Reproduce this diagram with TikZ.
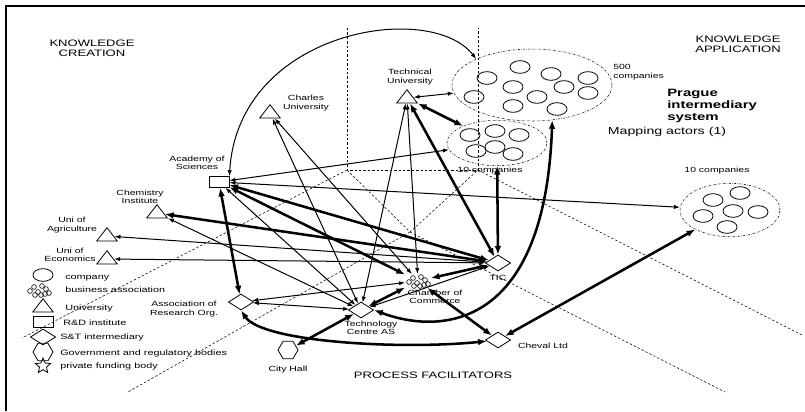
\documentclass[tikz,border=0pt]{standalone}
\usepackage{fontspec}
\setmainfont{Liberation Sans}[FakeStretch=1.4]
\usepackage{tikz}
\usetikzlibrary{arrows.meta, positioning, shapes}

\begin{document}
\begin{tikzpicture}[x=0.75pt, y=-0.75pt,
  every node/.style={inner sep=0pt},
  lbl/.style={font=\fontsize{5.6}{6.4}\selectfont, align=center},
  keytext/.style={font=\fontsize{5.8}{6.5}\selectfont, anchor=west},
  sector/.style={font=\fontsize{7}{7.8}\selectfont, align=center},
  univ/.style={draw, isosceles triangle, shape border rotate=90, isosceles triangle stretches, minimum width=15.5pt, minimum height=10pt, line width=0.6pt},
  lab/.style={draw, rectangle, minimum width=15pt, minimum height=8pt, line width=0.6pt},
  broker/.style={draw, diamond, aspect=1.6, minimum width=19pt, minimum height=12pt, line width=0.6pt},
  govt/.style={draw, regular polygon, regular polygon sides=6, minimum size=15pt, line width=0.6pt},
  funder/.style={draw, star, star points=5, star point ratio=2.2, minimum size=12pt, line width=0.6pt},
  firm/.style={draw, ellipse, minimum width=15pt, minimum height=9.5pt, line width=0.6pt},
  cluster/.style={minimum width=19pt, minimum height=10pt},
  group/.style={draw, ellipse, line width=0.4pt, dash pattern=on 1.5pt off 1pt on 0.3pt off 1pt},
  divider/.style={line width=0.4pt, dash pattern=on 1.8pt off 1.5pt},
  link/.style={draw, {Latex[length=4.5pt, width=3.2pt]}-{Latex[length=4.5pt, width=3.2pt]}, line width=0.75pt},
  strong/.style={draw, {Latex[length=6.5pt, width=5pt]}-{Latex[length=6.5pt, width=5pt]}, line width=1.9pt},
  assoc/.pic={
    \foreach \dx/\dy in {-9/1, -5/-3, -1/2, 3/-4, 7/-1, 10/3, -4/5, 2/5, 6/4}
      \draw [line width=0.45pt] (\dx,\dy) circle (2.4);
  }
]
\useasboundingbox (0,0) rectangle (805,411);

% frame
\draw [line width=1.5pt] (6,411) -- (6,6) -- (805,6);

% sector borders
\draw [divider] (347,28) -- (347,170) -- (478,170) -- (478,28);
\draw [divider] (347,170) -- (410,232) -- (478,170);
\draw [divider] (347,170) -- (22,338);
\draw [divider] (478,170) -- (802,335);
\draw [divider] (410,232) -- (128,392);
\draw [divider] (410,232) -- (725,392);

% sector names
\node [sector] at (92,48)   {KNOWLEDGE\\CREATION};
\node [sector] at (738,44)  {KNOWLEDGE\\APPLICATION};
\node [sector] at (433,375) {PROCESS FACILITATORS};

\node [anchor=north west, align=left, font=\fontsize{8}{8.9}\selectfont\bfseries] (title) at (667,89) {Prague\\intermediary\\system};
\node [anchor=north west, font=\fontsize{7.6}{8}\selectfont, below=3pt of title.south west] (subtitle) {Mapping actors (1)};

% knowledge creation
\node [univ] (tu)      at (407,98)  {};
\node [univ] (charles) at (270,113) {};
\node [lab ] (acad)    at (219,182) {};
\node [univ] (chem)    at (157,213) {};
\node [univ] (agri)    at (107,236) {};
\node [univ] (econ)    at (107,259) {};

\node [lbl] at (410,77)  {Technical\\University};
\node [lbl] at (306,103) {Charles\\University};
\node [lbl] at (197,163) {Academy of\\Sciences};
\node [lbl] at (140,197) {Chemistry\\Institute};
\node [lbl] at (72,225)  {Uni of\\Agriculture};
\node [lbl] at (70,255)  {Uni of\\Economics};

% process facilitators
\node [broker ] (aro)    at (241,302) {};
\node [broker ] (tcas)   at (361,310) {};
\node [cluster] (coc)    at (418,281) {};
\pic at (418,281) {assoc};
\node [broker ] (tic)    at (498,263) {};
\node [broker ] (cheval) at (498,340) {};
\node [govt   ] (hall)   at (288,350) {};

\node [lbl] at (184,309) {Association of\\Research Org.};
\node [lbl] at (371,328) {Technology\\Centre AS};
\node [lbl] at (435,297) {Chamber of\\Commerce};
\node [lbl, below=3pt of tic]            {TIC};
\node [lbl, right=5pt of cheval.east, yshift=-4pt] {Cheval Ltd};
\node [lbl, below=5pt of hall]           {City Hall};

% knowledge application
\node [group, minimum width=120pt, minimum height=54pt] (big)   at (532,85)  {};
\node [group, minimum width=75pt,  minimum height=34pt] (mid)   at (497,143) {};
\node [group, minimum width=75pt,  minimum height=40pt] (right) at (730,210) {};

\node [firm] (b1)  at (520,67)  {};
\node [firm] (b2)  at (487,78)  {};
\node [firm] (b3)  at (551,74)  {};
\node [firm] (b4)  at (588,78)  {};
\node [firm] (b5)  at (513,87)  {};
\node [firm] (b6)  at (564,87)  {};
\node [firm] (b7)  at (588,93)  {};
\node [firm] (b8)  at (474,97)  {};
\node [firm] (b9)  at (537,97)  {};
\node [firm] (b10) at (513,106) {};
\node [firm] (b11) at (557,109) {};

\node [firm] (m1)  at (470,135) {};
\node [firm] (m2)  at (495,131) {};
\node [firm] (m3)  at (519,135) {};
\node [firm] (m4)  at (476,151) {};
\node [firm] (m5)  at (495,147) {};
\node [firm] (m6)  at (513,154) {};

\node [firm] (r1)  at (740,193) {};
\node [firm] (r2)  at (713,200) {};
\node [firm] (r3)  at (733,211) {};
\node [firm] (r4)  at (758,212) {};
\node [firm] (r5)  at (703,216) {};
\node [firm] (r6)  at (727,227) {};

\node [lbl, anchor=west, align=left] at (613,72) {500\\companies};
\node [lbl] at (490,171) {10 companies};
\node [lbl] at (717,171) {10 companies};

% legend
\node [firm  ] (k1) at (43,275) {};
\pic at (39,290) {assoc};
\node [univ  ] (k3) at (43,307) {};
\node [lab   ] (k4) at (43,322) {};
\node [broker] (k5) at (43,337) {};
\node [govt  ] (k6) at (43,352) {};
\node [funder] (k7) at (43,366) {};

\node [keytext] at (65,278) {company};
\node [keytext] at (65,290) {business association};
\node [keytext] at (65,308) {University};
\node [keytext] at (63,323) {R\&D institute};
\node [keytext] at (60,337) {S\&T intermediary};
\node [keytext] at (60,353) {Government and regulatory bodies};
\node [keytext] at (60,366) {private funding body};

% weak ties
\path [link] (acad.north east) .. controls (238,30) and (430,0) .. (big.155);
\path [link] (tu)      edge (big);
\path [link] (acad)    edge (mid);
\path [link] (acad)    edge (right);
\path [link] (acad)    edge (tcas);
\path [link] (charles) edge (tcas);
\path [link] (charles) edge (coc);
\path [link] (tu)      edge (tcas);
\path [link] (tu)      edge (coc);
\path [link] (chem)    edge (tcas);
\path [link] (agri)    edge (tic);
\path [link] (econ)    edge (tic);
\path [link] (tcas)    edge (tic);
\path [link] (aro)     edge (tcas);
\path [link] (aro)     edge (coc);

% strong ties
\path [strong] (tu)     edge (mid);
\path [strong] (tu)     edge (tic);
\path [strong] (mid)    edge (tic);
\path [strong] (acad)   edge (tic);
\path [strong] (acad)   edge (coc);
\path [strong] (acad)   edge (aro);
\path [strong] (chem)   edge (tic);
\path [strong] (coc)    edge (tic);
\path [strong] (coc)    edge (tcas);
\path [strong] (coc)    edge (cheval);
\path [strong] (hall)   edge (tcas);
\path [strong] (cheval) edge (right);
\path [strong] (tcas.east) .. controls (440,335) and (545,330) .. (big.-60);
\path [strong] (aro.south) .. controls (262,342) and (400,350) .. (cheval);

\end{tikzpicture}
\end{document}
